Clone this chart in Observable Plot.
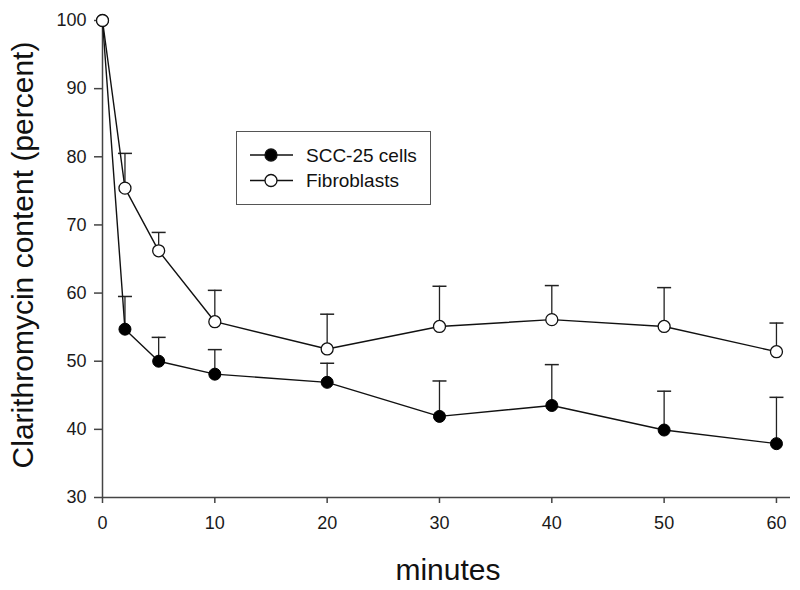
<!DOCTYPE html>
<html><head><meta charset="utf-8">
<script src="https://cdn.jsdelivr.net/npm/d3@7"></script>
<script src="https://cdn.jsdelivr.net/npm/@observablehq/plot@0.6"></script>
<style>
body{margin:0;background:#fff}
#wrap{position:relative;width:800px;height:590px;font-family:"Liberation Sans",Arial,sans-serif}
#legend{position:absolute;left:236px;top:131px}
#wrap g[aria-label="x-axis tick label"], #wrap g[aria-label="y-axis tick label"]{font-size:18px !important}
#wrap g[aria-label="x-axis tick label"] text, #wrap g[aria-label="y-axis tick label"] text{font-size:18px !important}
</style>
</head><body><div id="wrap"></div>
<script>
const minutes = [0, 2, 5, 10, 20, 30, 40, 50, 60];
const sccValues = [100, 54.7, 50.0, 48.1, 46.9, 41.9, 43.5, 39.9, 37.9];
const sccUpper = [null, 59.5, 53.5, 51.7, 49.7, 47.1, 49.5, 45.6, 44.7];
const fibValues = [100, 75.4, 66.2, 55.8, 51.8, 55.1, 56.1, 55.1, 51.4];
const fibUpper = [null, 80.5, 68.9, 60.4, 56.9, 61.0, 61.1, 60.8, 55.6];
const xTicks = [0, 10, 20, 30, 40, 50, 60];
const yTicks = [30, 40, 50, 60, 70, 80, 90, 100];
const seriesNames = ["SCC-25 cells", "Fibroblasts"];
const xLabel = "minutes";
const yLabel = "Clarithromycin content (percent)";

const rows = [];
minutes.forEach((m, i) => {
  rows.push({series: seriesNames[0], minute: m, value: sccValues[i], upper: sccUpper[i]});
  rows.push({series: seriesNames[1], minute: m, value: fibValues[i], upper: fibUpper[i]});
});
const errRows = rows.filter(d => d.upper != null);
const scc = rows.filter(d => d.series === seriesNames[0]);
const fib = rows.filter(d => d.series === seriesNames[1]);

const cap = {draw(ctx, size) { const r = Math.sqrt(size / Math.PI); ctx.moveTo(-r, 0); ctx.lineTo(r, 0); }};
const axisColor = "#444";

const plot = Plot.plot({
  width: 800, height: 590,
  marginLeft: 102, marginRight: 10, marginTop: 20, marginBottom: 93,
  style: {fontFamily: "'Liberation Sans', Arial, sans-serif", fontSize: "18px", color: "#111", background: "#fff"},
  x: {domain: [0, 61.25], label: null},
  y: {domain: [30, 100], label: null},
  marks: [
    Plot.ruleY([30], {stroke: axisColor, strokeWidth: 1.5}),
    Plot.ruleX([0], {stroke: axisColor, strokeWidth: 1.5}),
    Plot.axisX({ticks: xTicks, tickSize: 6, tickPadding: 13, stroke: axisColor, strokeWidth: 1.5, fill: "#1a1a1a", fontSize: 18}),
    Plot.axisY({ticks: yTicks, tickSize: 8, tickPadding: 8, stroke: axisColor, strokeWidth: 1.5, fill: "#1a1a1a", fontSize: 18}),
    Plot.ruleX(errRows, {x: "minute", y1: "value", y2: "upper", stroke: "#222", strokeWidth: 1.3}),
    Plot.dot(errRows, {x: "minute", y: "upper", symbol: cap, r: 7, stroke: "#222", strokeWidth: 1.5}),
    Plot.line(scc, {x: "minute", y: "value", stroke: "#111", strokeWidth: 1.4}),
    Plot.line(fib, {x: "minute", y: "value", stroke: "#111", strokeWidth: 1.4}),
    Plot.dot(scc, {x: "minute", y: "value", r: 6, fill: "#000", stroke: "#000", strokeWidth: 1}),
    Plot.dot(fib, {x: "minute", y: "value", r: 6, fill: "#fff", stroke: "#111", strokeWidth: 1.3})
  ]
});

const svg = d3.select(plot);
svg.selectAll('g[aria-label$="tick label"] text').style("font-size", "18px");
svg.selectAll('g[aria-label$="tick label"]').attr("font-size", 18);
svg.append("text")
  .attr("transform", "translate(33,255) rotate(-90)")
  .attr("text-anchor", "middle")
  .attr("font-size", "30px").attr("fill", "#111")
  .text(yLabel);
svg.append("text")
  .attr("x", 448).attr("y", 580)
  .attr("text-anchor", "middle")
  .attr("font-size", "30px").attr("fill", "#111")
  .text(xLabel);

const wrap = document.getElementById("wrap");
wrap.appendChild(plot);

// legend
const lg = d3.select(wrap).append("svg").attr("id", "legend")
  .attr("width", 196).attr("height", 75);
lg.append("rect").attr("x", 0.5).attr("y", 0.5).attr("width", 194).attr("height", 73)
  .attr("fill", "#fff").attr("stroke", "#555").attr("stroke-width", 1);
const fills = ["#000", "#fff"];
seriesNames.forEach((name, i) => {
  const y = 24 + i * 25.5;
  lg.append("line").attr("x1", 14).attr("x2", 57).attr("y1", y).attr("y2", y).attr("stroke", "#111").attr("stroke-width", 1.4);
  lg.append("circle").attr("cx", 35).attr("cy", y).attr("r", 6).attr("fill", fills[i]).attr("stroke", "#111").attr("stroke-width", 1.3);
  lg.append("text").attr("x", 70).attr("y", y).attr("dy", "0.36em")
    .attr("font-size", "19px").attr("fill", "#111").text(name);
});
</script>
</body></html>
